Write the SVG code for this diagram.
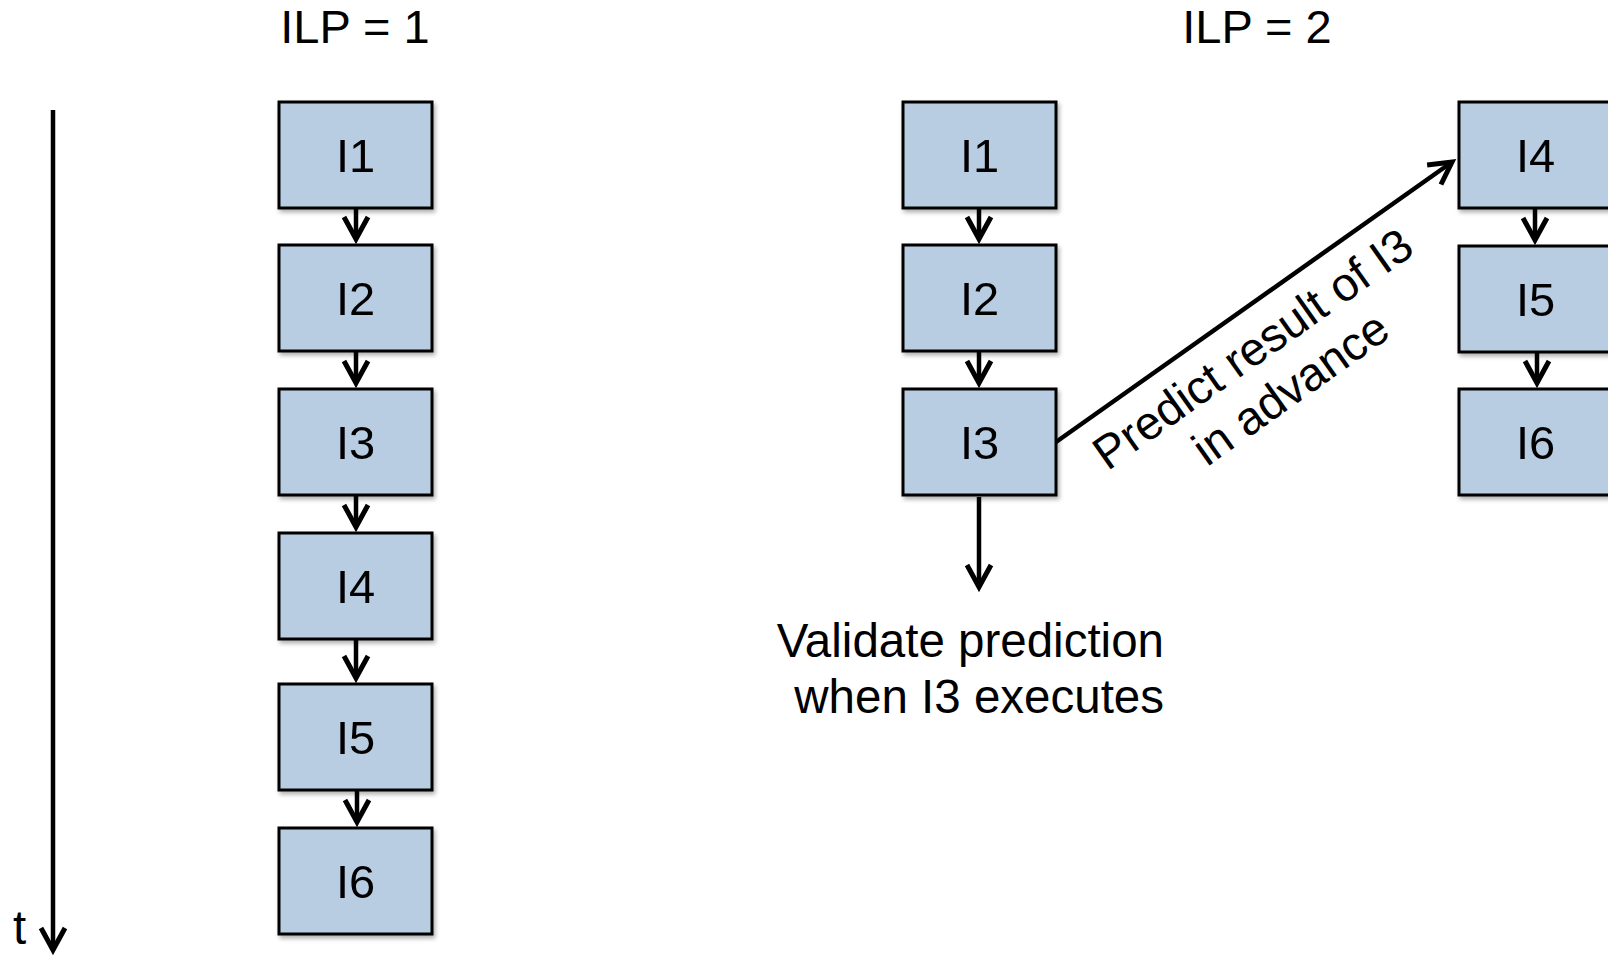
<svg xmlns="http://www.w3.org/2000/svg" width="1608" height="957" viewBox="0 0 1608 957">
  <defs>
    <style>
      .box { fill: #B9CDE2; stroke: #000; stroke-width: 3; }
      .lbl { font-family: "Liberation Sans", Arial, sans-serif; font-size: 47px; fill: #000; text-anchor: middle; }
      .txt { font-family: "Liberation Sans", Arial, sans-serif; font-size: 47.5px; fill: #000; }
      .wire { stroke: #000; stroke-width: 4.5; fill: none; marker-end: url(#head); }
    </style>
    <marker id="head" markerUnits="userSpaceOnUse" viewBox="-28 -17 34 34" markerWidth="34" markerHeight="34" refX="0" refY="0" orient="auto" overflow="visible">
      <path d="M -22 -12 L 0 0 L -22 12" fill="none" stroke="#000" stroke-width="5" stroke-linejoin="miter"/>
    </marker>
    <filter id="shadow" x="-10%" y="-10%" width="130%" height="130%">
      <feDropShadow dx="2" dy="3" stdDeviation="2.2" flood-color="#000" flood-opacity="0.3"/>
    </filter>
  </defs>

  <rect width="1608" height="957" fill="#fff"/>

  <!-- headings -->
  <text class="lbl" x="355" y="43">ILP = 1</text>
  <text class="lbl" x="1257" y="43">ILP = 2</text>

  <!-- time axis -->
  <g id="time-axis">
    <line class="wire" x1="53" y1="110" x2="53" y2="950"/>
    <text class="txt" x="13" y="944">t</text>
  </g>

  <!-- connectors -->
  <g id="connectors">
    <!-- sequential column -->
    <line class="wire" x1="356" y1="209" x2="356" y2="239"/>
    <line class="wire" x1="356" y1="352" x2="356" y2="383"/>
    <line class="wire" x1="356" y1="496" x2="356" y2="527"/>
    <line class="wire" x1="356" y1="640" x2="356" y2="678"/>
    <line class="wire" x1="357" y1="791" x2="357" y2="822"/>
    <!-- parallel, first chain -->
    <line class="wire" x1="979" y1="209" x2="979" y2="239"/>
    <line class="wire" x1="979" y1="352" x2="979" y2="383"/>
    <line class="wire" x1="979" y1="497" x2="979" y2="587"/>
    <!-- prediction edge -->
    <line class="wire" x1="1056" y1="442" x2="1452" y2="162"/>
    <!-- parallel, second chain -->
    <line class="wire" x1="1535" y1="209" x2="1535" y2="240"/>
    <line class="wire" x1="1537" y1="353" x2="1537" y2="383"/>
  </g>

  <!-- sequential execution -->
  <g id="seq-I1" filter="url(#shadow)">
    <rect class="box" x="279" y="102" width="153" height="106"/>
    <text class="lbl" x="355.5" y="172">I1</text>
  </g>
  <g id="seq-I2" filter="url(#shadow)">
    <rect class="box" x="279" y="245" width="153" height="106"/>
    <text class="lbl" x="355.5" y="315">I2</text>
  </g>
  <g id="seq-I3" filter="url(#shadow)">
    <rect class="box" x="279" y="389" width="153" height="106"/>
    <text class="lbl" x="355.5" y="459">I3</text>
  </g>
  <g id="seq-I4" filter="url(#shadow)">
    <rect class="box" x="279" y="533" width="153" height="106"/>
    <text class="lbl" x="355.5" y="603">I4</text>
  </g>
  <g id="seq-I5" filter="url(#shadow)">
    <rect class="box" x="279" y="684" width="153" height="106"/>
    <text class="lbl" x="355.5" y="754">I5</text>
  </g>
  <g id="seq-I6" filter="url(#shadow)">
    <rect class="box" x="279" y="828" width="153" height="106"/>
    <text class="lbl" x="355.5" y="898">I6</text>
  </g>

  <!-- speculative execution: first chain -->
  <g id="par-I1" filter="url(#shadow)">
    <rect class="box" x="903" y="102" width="153" height="106"/>
    <text class="lbl" x="979.5" y="172">I1</text>
  </g>
  <g id="par-I2" filter="url(#shadow)">
    <rect class="box" x="903" y="245" width="153" height="106"/>
    <text class="lbl" x="979.5" y="315">I2</text>
  </g>
  <g id="par-I3" filter="url(#shadow)">
    <rect class="box" x="903" y="389" width="153" height="106"/>
    <text class="lbl" x="979.5" y="459">I3</text>
  </g>

  <!-- speculative execution: second chain -->
  <g id="par-I4" filter="url(#shadow)">
    <rect class="box" x="1459" y="102" width="153" height="106"/>
    <text class="lbl" x="1535.5" y="172">I4</text>
  </g>
  <g id="par-I5" filter="url(#shadow)">
    <rect class="box" x="1459" y="246" width="153" height="106"/>
    <text class="lbl" x="1535.5" y="316">I5</text>
  </g>
  <g id="par-I6" filter="url(#shadow)">
    <rect class="box" x="1459" y="389" width="153" height="106"/>
    <text class="lbl" x="1535.5" y="459">I6</text>
  </g>

  <!-- edge label -->
  <g id="predict-label" transform="translate(1262 362) rotate(-35.3)">
    <text class="lbl" x="0" y="0" font-size="48.5">Predict result of I3</text>
    <text class="lbl" x="8" y="54" font-size="48.5">in advance</text>
  </g>

  <!-- validation note -->
  <g id="validate-note">
    <text class="txt" x="1164" y="657" text-anchor="end">Validate prediction</text>
    <text class="txt" x="1164" y="713" text-anchor="end">when I3 executes</text>
  </g>
</svg>
